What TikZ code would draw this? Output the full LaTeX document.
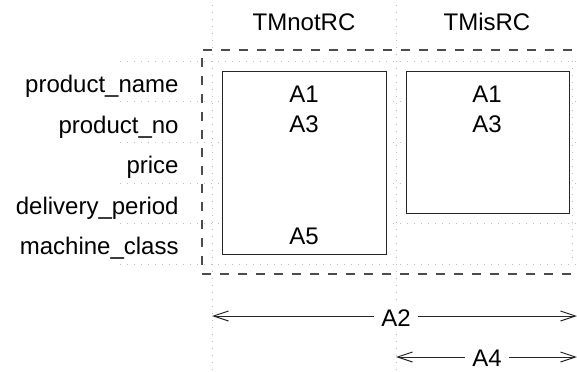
\documentclass[tikz,border=0pt]{standalone}
\usepackage{fontspec}
\setmainfont{Liberation Sans}
\usetikzlibrary{arrows.meta}
\begin{document}
\begin{tikzpicture}[x=0.5pt,y=-0.5pt,
  grid/.style={black!25, line width=0.4pt, dash pattern=on 0.5pt off 3pt},
  frame/.style={black!70, line width=0.7pt, dash pattern=on 4.5pt off 4.5pt},
  pbox/.style={draw=black!85, fill=white, line width=0.7pt},
  lbl/.style={font=\fontsize{12}{14}\selectfont, inner sep=0pt},
  dim/.style={black!85, line width=0.5pt, {Straight Barb[length=7.5pt,width=5pt]}-{Straight Barb[length=7.5pt,width=5pt]}},
  tag/.style={font=\fontsize{12}{14}\selectfont, fill=white, inner xsep=3.5pt, inner ysep=2pt}
]
\useasboundingbox (0,0) rectangle (577,371);
% faint grid
\foreach \yy in {61,101,142,183,223,264}
  \draw[grid] (120,\yy) -- (577,\yy);
\draw[grid] (212,5) -- (212,371);
\draw[grid] (396,5) -- (396,371);
\draw[grid] (572,61) -- (572,264);
% dashed frame (open on the right)
\draw[frame] (590,50) -- (202,50) -- (202,274) -- (590,274);
% boxes
\node[pbox, minimum width=82pt, minimum height=91.5pt, anchor=north west, inner sep=0pt] (b1) at (222,71) {};
\node[pbox, minimum width=81.5pt, minimum height=71pt, anchor=north west, inner sep=0pt] (b2) at (406,71) {};
% column headers
\node[lbl, anchor=base] (h1) at (304,30) {TMnotRC};
\node[lbl, anchor=base] (h2) at (487,30) {TMisRC};
% row labels
\node[lbl, anchor=base east] (r1) at (179,92) {product\_name};
\node[lbl, anchor=base east] (r2) at (179,133) {product\_no};
\node[lbl, anchor=base east] (r3) at (179,173) {price};
\node[lbl, anchor=base east] (r4) at (179,214) {delivery\_period};
\node[lbl, anchor=base east] (r5) at (179,254) {machine\_class};
% box contents
\node[lbl, anchor=base] (a11) at (304,102) {A1};
\node[lbl, anchor=base] (a13) at (304,132) {A3};
\node[lbl, anchor=base] (a15) at (304,244) {A5};
\node[lbl, anchor=base] (a21) at (487,102) {A1};
\node[lbl, anchor=base] (a23) at (487,132) {A3};
% dimension arrows
\coordinate (d2l) at (212,316);
\coordinate (d2r) at (577,316);
\coordinate (d4l) at (396,357);
\coordinate (d4r) at (577,357);
\draw[dim] (d2l) -- (d2r);
\draw[dim] (d4l) -- (d4r);
\node[tag, anchor=base] (t2) at (396,326) {A2};
\node[tag, anchor=base] (t4) at (487,366) {A4};
\end{tikzpicture}
\end{document}
